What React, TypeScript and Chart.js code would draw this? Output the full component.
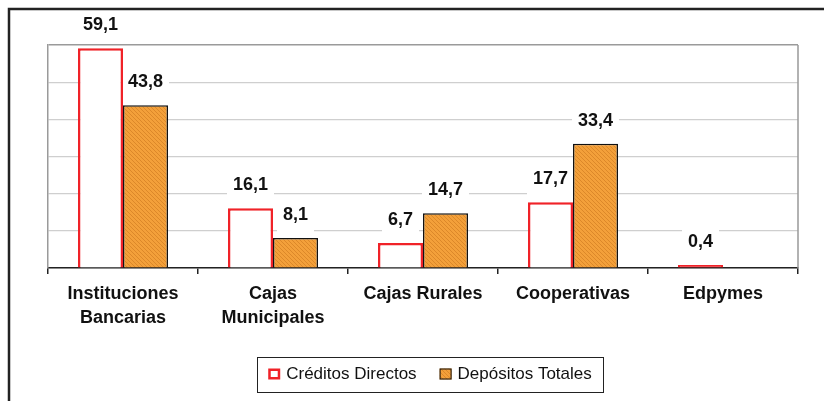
import { useEffect, useRef } from 'react';
import { Chart, registerables } from 'chart.js';

Chart.register(...registerables);

const categories: string[][] = [
  ['Instituciones', 'Bancarias'],
  ['Cajas', 'Municipales'],
  ['Cajas Rurales'],
  ['Cooperativas'],
  ['Edpymes'],
];
const creditosDirectos: (number | null)[] = [59.1, 16.1, 6.7, 17.7, 0.4];
const depositosTotales: (number | null)[] = [43.8, 8.1, 14.7, 33.4, null];
const seriesNames = ['Créditos Directos', 'Depósitos Totales'];
const yMin = 0;
const yMax = 60;
const yStep = 10;

const FONT = '"Liberation Sans", Arial, Helvetica, sans-serif';
const RED = '#F02228';
const ORANGE = '#F3A03A';

function fmt(v: number): string {
  return v.toFixed(1).replace('.', ',');
}

function makeHatch(): CanvasPattern | string {
  const c = document.createElement('canvas');
  c.width = 4;
  c.height = 4;
  const g = c.getContext('2d');
  if (!g) return ORANGE;
  g.fillStyle = ORANGE;
  g.fillRect(0, 0, 4, 4);
  g.strokeStyle = 'rgba(205,120,30,0.6)';
  g.lineWidth = 1;
  g.beginPath();
  g.moveTo(0, 0);
  g.lineTo(4, 4);
  g.moveTo(-1, 3);
  g.lineTo(1, 5);
  g.moveTo(3, -1);
  g.lineTo(5, 1);
  g.stroke();
  return g.createPattern(c, 'repeat') || ORANGE;
}

const LABEL_GAP = 24;

export default function App() {
  const ref = useRef<HTMLCanvasElement>(null);

  useEffect(() => {
    if (!ref.current) return;
    const hatch = makeHatch();
    const legendStyles = [
      { fill: '#ffffff', stroke: RED, width: 2.5 },
      { fill: hatch, stroke: '#111', width: 1 },
    ];

    const decorPlugin = {
      id: 'decor',
      beforeDraw(chart: any) {
        const ctx = chart.ctx;
        ctx.save();
        ctx.fillStyle = '#fff';
        ctx.fillRect(0, 0, chart.width, chart.height);
        ctx.restore();
      },
      beforeDatasetsDraw(chart: any) {
        const ctx = chart.ctx;
        const a = chart.chartArea;
        ctx.save();
        ctx.strokeStyle = '#999';
        ctx.lineWidth = 1.5;
        ctx.beginPath();
        ctx.moveTo(a.right, a.top);
        ctx.lineTo(a.right, a.bottom);
        ctx.stroke();
        ctx.font = `bold 18px ${FONT}`;
        chart.data.datasets.forEach((ds: any, di: number) => {
          const meta = chart.getDatasetMeta(di);
          meta.data.forEach((el: any, i: number) => {
            const v = ds.data[i];
            if (v == null) return;
            const w = ctx.measureText(fmt(v)).width + 12;
            const cy = el.y - LABEL_GAP;
            ctx.fillStyle = '#fff';
            ctx.fillRect(el.x - w / 2, cy - 13, w, 32);
          });
        });
        ctx.restore();
      },
      afterDatasetsDraw(chart: any) {
        const ctx = chart.ctx;
        ctx.save();
        ctx.font = `bold 18px ${FONT}`;
        ctx.textAlign = 'center';
        ctx.textBaseline = 'middle';
        ctx.fillStyle = '#111';
        chart.data.datasets.forEach((ds: any, di: number) => {
          const meta = chart.getDatasetMeta(di);
          meta.data.forEach((el: any, i: number) => {
            const v = ds.data[i];
            if (v == null) return;
            ctx.fillText(fmt(v), el.x, el.y - LABEL_GAP + 1);
          });
        });
        ctx.restore();
      },
      afterDraw(chart: any) {
        const ctx = chart.ctx;
        ctx.save();
        ctx.strokeStyle = '#222';
        ctx.lineWidth = 2.5;
        ctx.beginPath();
        ctx.moveTo(chart.width, 9);
        ctx.lineTo(9, 9);
        ctx.lineTo(9, chart.height);
        ctx.stroke();

        ctx.font = `17px ${FONT}`;
        const ds = chart.data.datasets;
        const marker = 12;
        const gapMT = 6;
        const gapItems = 23;
        const padX = 11;
        const widths = ds.map((d: any) => ctx.measureText(d.label).width);
        const total =
          padX * 2 + widths.reduce((s: number, w: number) => s + marker + gapMT + w, 0) + gapItems;
        const cx = 430;
        const left = cx - total / 2;
        const top = 357;
        const h = 35;
        ctx.fillStyle = '#fff';
        ctx.fillRect(left, top, total, h);
        ctx.strokeStyle = '#222';
        ctx.lineWidth = 1;
        ctx.strokeRect(Math.round(left) + 0.5, top + 0.5, Math.round(total), h);
        let x = left + padX;
        const my = top + h / 2;
        ds.forEach((d: any, i: number) => {
          const st = legendStyles[i];
          ctx.fillStyle = st.fill;
          ctx.fillRect(x, my - marker / 2, marker, marker - 1);
          ctx.strokeStyle = st.stroke;
          ctx.lineWidth = st.width;
          const inset = st.width / 2;
          ctx.strokeRect(x + inset, my - marker / 2 + inset, marker - 2 * inset, marker - 1 - 2 * inset);
          x += marker + gapMT;
          ctx.fillStyle = '#111';
          ctx.textAlign = 'left';
          ctx.textBaseline = 'middle';
          ctx.fillText(d.label, x, my);
          x += widths[i] + gapItems;
        });
        ctx.restore();
      },
    };

    const chart = new Chart(ref.current, {
      type: 'bar',
      data: {
        labels: categories,
        datasets: [
          {
            label: seriesNames[0],
            data: creditosDirectos,
            backgroundColor: (c: any) => (c.raw != null && c.raw < 1 ? RED : '#ffffff'),
            borderColor: RED,
            borderWidth: 2.5,
            borderSkipped: 'start',
            minBarLength: 3,
            categoryPercentage: 0.6,
            barPercentage: 1.0,
          },
          {
            label: seriesNames[1],
            data: depositosTotales,
            backgroundColor: hatch as any,
            borderColor: '#111',
            borderWidth: 1.5,
            borderSkipped: 'start',
            categoryPercentage: 0.6,
            barPercentage: 1.0,
          },
        ],
      },
      options: {
        responsive: false,
        animation: false,
        devicePixelRatio: 1,
        layout: { padding: { left: 48, top: 45, right: 26, bottom: 0 } },
        plugins: {
          legend: { display: false },
          tooltip: { enabled: false },
          title: { display: false },
        },
        scales: {
          x: {
            offset: true,
            grid: {
              offset: true,
              drawOnChartArea: false,
              drawTicks: true,
              tickLength: 6,
              color: '#222',
              lineWidth: 1.5,
            },
            border: { display: true, color: '#222', width: 1.5 },
            ticks: {
              color: '#111',
              padding: 9,
              maxRotation: 0,
              autoSkip: false,
              font: { family: FONT, size: 18, weight: 'bold', lineHeight: 1.28 },
            },
            afterFit(scale: any) {
              scale.height = 133;
            },
          },
          y: {
            min: yMin,
            max: yMax,
            ticks: { display: false, stepSize: yStep },
            grid: {
              drawTicks: false,
              color: (c: any) => (c.tick && c.tick.value === yMax ? '#9a9a9a' : '#cfcfcf'),
              lineWidth: (c: any) => (c.tick && c.tick.value === yMax ? 1.5 : 1.2),
            },
            border: { display: true, color: '#9a9a9a', width: 1.5 },
            afterFit(scale: any) {
              scale.width = 0;
            },
          },
        },
      },
      plugins: [decorPlugin],
    });
    return () => chart.destroy();
  }, []);

  return (
    <div style={{ position: 'fixed', left: 0, top: 0, width: 824, height: 401, background: '#fff' }}>
      <canvas ref={ref} width={824} height={401} style={{ display: 'block', width: 824, height: 401 }} />
    </div>
  );
}
